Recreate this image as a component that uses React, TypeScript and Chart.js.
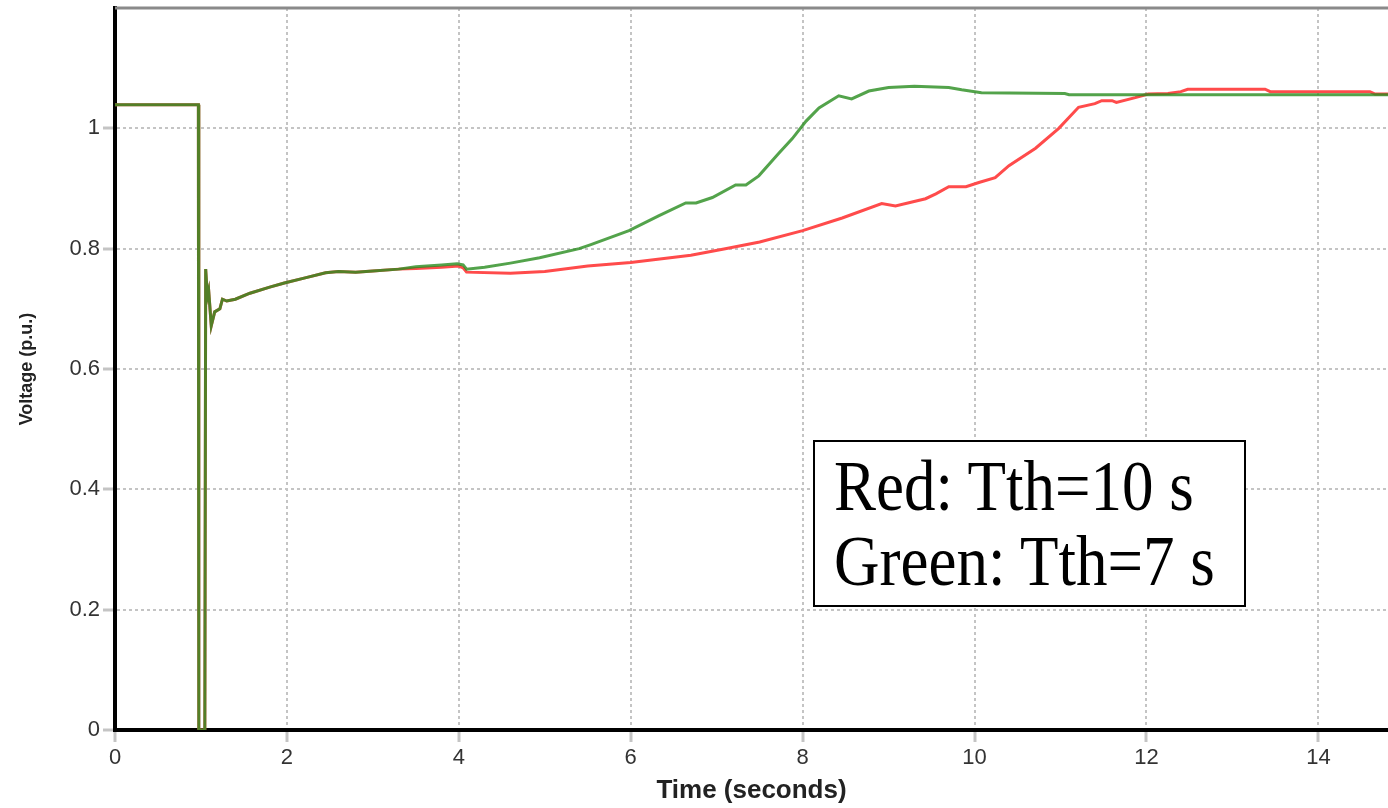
import React, { useEffect, useRef } from "react";
import { Chart, registerables } from "chart.js";

Chart.register(...registerables);

// Time (s) and voltage (p.u.)
const redTime = [
  0, 0.97, 0.975, 1.045, 1.055, 1.075, 1.09, 1.12, 1.16, 1.22, 1.25, 1.3, 1.4, 1.57, 1.8, 1.97, 2.2, 2.45, 2.6, 2.8, 3.0, 3.3,
  3.5, 3.8, 4.0, 4.05, 4.09, 4.6, 5.0, 5.5, 6.0, 6.7, 7.1, 7.5, 8.0, 8.46, 8.92, 9.08, 9.43, 9.55, 9.7, 9.9, 10.05, 10.24,
  10.4, 10.71, 10.98, 11.21, 11.4, 11.48, 11.6, 11.65, 11.87, 12.02, 12.25, 12.4, 12.48, 13.38, 13.44, 14.6, 14.66, 14.81,
];
const redVolt = [
  1.039, 1.039, 0, 0, 0.766, 0.72, 0.73, 0.672, 0.695, 0.7, 0.716, 0.713, 0.716, 0.726, 0.736, 0.743, 0.751, 0.76, 0.762, 0.761, 0.763, 0.766,
  0.767, 0.769, 0.771, 0.768, 0.761, 0.759, 0.762, 0.771, 0.777, 0.789, 0.8, 0.811, 0.83, 0.851, 0.875, 0.871, 0.883, 0.891, 0.903, 0.903, 0.91, 0.918,
  0.938, 0.967, 1.0, 1.035, 1.041, 1.046, 1.046, 1.043, 1.051, 1.057, 1.058, 1.061, 1.065, 1.065, 1.061, 1.061, 1.057, 1.057,
];

const greenTime = [
  0, 0.97, 0.975, 1.045, 1.055, 1.075, 1.09, 1.12, 1.16, 1.22, 1.25, 1.3, 1.4, 1.57, 1.8, 1.97, 2.2, 2.45, 2.6, 2.8, 3.0, 3.3,
  3.5, 3.8, 3.98, 4.05, 4.09, 4.3, 4.6, 4.94, 5.4, 5.52, 5.98, 6.33, 6.64, 6.76, 6.95, 7.22, 7.34, 7.49, 7.72, 7.88, 8.04,
  8.19, 8.42, 8.57, 8.77, 9.0, 9.3, 9.7, 9.85, 10.08, 11.05, 11.1, 14.81,
];
const greenVolt = [
  1.039, 1.039, 0, 0, 0.766, 0.72, 0.73, 0.672, 0.695, 0.7, 0.716, 0.713, 0.716, 0.726, 0.736, 0.743, 0.751, 0.76, 0.762, 0.761, 0.763, 0.766,
  0.77, 0.773, 0.775, 0.773, 0.766, 0.769, 0.776, 0.785, 0.8, 0.806, 0.83, 0.855, 0.876, 0.876, 0.885, 0.906, 0.906, 0.921, 0.958, 0.983, 1.012,
  1.034, 1.054, 1.049, 1.062, 1.068, 1.07, 1.068, 1.064, 1.059, 1.058, 1.056, 1.056,
];

const xTickValues = [0, 2, 4, 6, 8, 10, 12, 14];
const yTickValues = [0, 0.2, 0.4, 0.6, 0.8, 1];
const xMax = 14.81;
const yMax = 1.2;
const xTitle = "Time (seconds)";
const yTitle = "Voltage (p.u.)";
const noteLines = ["Red: Tth=10 s", "Green: Tth=7 s"];

const toPoints = (t: number[], v: number[]) => t.map((x, i) => ({ x, y: v[i] }));

const topBorder = {
  id: "topBorder",
  afterDatasetsDraw(chart: any) {
    const { ctx, chartArea } = chart;
    ctx.save();
    ctx.strokeStyle = "#8a8a8a";
    ctx.lineWidth = 3;
    ctx.beginPath();
    ctx.moveTo(chartArea.left, chartArea.top);
    ctx.lineTo(chartArea.right, chartArea.top);
    ctx.stroke();
    ctx.restore();
  },
};

export default function App() {
  const ref = useRef<HTMLCanvasElement | null>(null);

  useEffect(() => {
    if (!ref.current) return;
    const tickFont = { family: "'Liberation Sans', Arial, sans-serif", size: 22 };
    const gridOpts = {
      color: "#c4c4c4",
      lineWidth: 2,
      tickLength: 12,
      tickColor: "#c4c4c4",
      tickWidth: 3,
      tickBorderDash: [],
    };
    const chart = new Chart(ref.current, {
      type: "line",
      data: {
        datasets: [
          {
            label: "Green",
            data: toPoints(greenTime, greenVolt),
            borderColor: "rgba(40,140,30,0.8)",
            borderWidth: 3,
            pointRadius: 0,
            tension: 0,
            order: 1,
          },
          {
            label: "Red",
            data: toPoints(redTime, redVolt),
            borderColor: "rgb(255,75,75)",
            borderWidth: 3,
            pointRadius: 0,
            tension: 0,
            order: 2,
          },
        ],
      },
      options: {
        animation: false,
        responsive: false,
        layout: { padding: { top: 8, right: 0, bottom: 0, left: 0 } },
        plugins: { legend: { display: false }, tooltip: { enabled: false } },
        scales: {
          x: {
            type: "linear",
            min: 0,
            max: xMax,
            afterFit: (s: any) => {
              s.height = 78;
              s.paddingLeft = 0;
              s.paddingRight = 0;
            },
            afterBuildTicks: (s: any) => { s.ticks = xTickValues.map((value) => ({ value })); },
            ticks: {
              color: "#333",
              font: tickFont,
              padding: 3,
              maxRotation: 0,
              autoSkip: false,
              callback: (v: any) => String(Math.round(Number(v))),
            },
            grid: gridOpts,
            border: { display: true, color: "#000", width: 4, dash: [3, 3] },
            title: {
              display: true,
              text: xTitle,
              color: "#222",
              font: { family: "'Liberation Sans', Arial, sans-serif", size: 26, weight: "bold", lineHeight: 1.2 },
              padding: { top: 0, bottom: 2 },
            },
          },
          y: {
            type: "linear",
            min: 0,
            max: yMax,
            afterFit: (s: any) => {
              s.width = 115;
              s.paddingTop = 0;
              s.paddingBottom = 0;
            },
            afterBuildTicks: (s: any) => { s.ticks = yTickValues.map((value) => ({ value })); },
            ticks: {
              color: "#333",
              font: tickFont,
              padding: 3,
              autoSkip: false,
              callback: (v: any) => String(Math.round(Number(v) * 10) / 10),
            },
            grid: gridOpts,
            border: { display: true, color: "#000", width: 4, dash: [3, 3] },
            title: {
              display: true,
              text: yTitle,
              color: "#222",
              font: { family: "'Liberation Sans', Arial, sans-serif", size: 18, weight: "bold", lineHeight: 1.2 },
              padding: { top: 16, bottom: 0 },
            },
          },
        },
      },
      plugins: [topBorder],
    } as any);
    return () => chart.destroy();
  }, []);

  return (
    <div style={{ position: "absolute", left: 0, top: 0, width: 1388, height: 808, background: "#fff", overflow: "hidden" }}>
      <canvas ref={ref} width={1388} height={808} style={{ display: "block", width: 1388, height: 808 }} />
      <div
        style={{
          position: "absolute",
          left: 813,
          top: 440,
          width: 429,
          height: 163,
          border: "2px solid #000",
          background: "#fff",
          fontFamily: "'Liberation Serif', 'Times New Roman', serif",
          color: "#000",
        }}
      >
        {noteLines.map((line, i) => (
          <div
            key={i}
            style={{
              position: "absolute",
              left: 19,
              top: 8 + i * 75,
              fontSize: 63,
              lineHeight: "64px",
              whiteSpace: "nowrap",
              transform: "scaleY(1.13)",
              transformOrigin: "0 0",
            }}
          >
            {line}
          </div>
        ))}
      </div>
    </div>
  );
}
